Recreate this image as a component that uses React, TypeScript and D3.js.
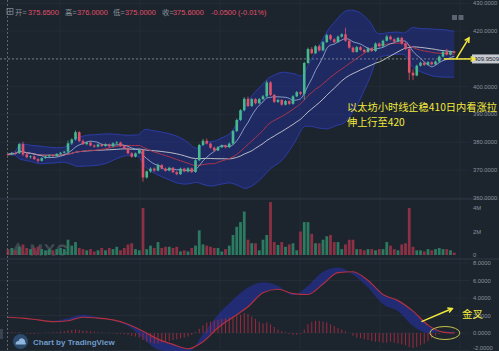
import * as d3 from 'd3';

// candles (ETH hourly)
const opens = [
  375.65, 375.6, 376.1, 376.0, 379.3, 375.6, 374.6, 374.9, 373.9, 373.3,
  374.3, 374.9, 375.3, 375.0, 375.8, 376.2, 376.6, 379.6, 381.0, 383.6,
  380.4, 379.3, 379.9, 378.8, 378.4, 379.2, 378.6, 379.2, 378.5, 379.6,
  379.9, 378.6, 377.8, 376.0, 374.8, 376.0, 377.2, 367.3, 369.5, 370.5,
  369.8, 371.8, 370.5, 369.8, 370.8, 369.2, 368.5, 370.5, 369.5, 370.6,
  369.3, 373.5, 379.0, 380.5, 379.5, 378.0, 377.0, 378.2, 378.8, 378.2,
  379.5, 384.0, 388.0, 391.5, 395.6, 393.0, 395.5, 394.0, 395.5, 396.5,
  401.5, 397.0, 394.5, 395.2, 393.5, 394.8, 393.8, 396.5, 398.0, 397.4,
  408.5, 413.5, 412.0, 414.5, 413.0, 416.0, 418.5, 417.0, 416.0, 418.0,
  418.8, 416.5, 414.0, 412.5, 414.2, 413.2, 412.5, 413.8, 412.8, 415.5,
  414.5, 416.5, 418.0, 417.0, 416.2, 417.5, 415.5, 413.5, 405.0, 404.0,
  407.5, 408.6, 407.8, 408.8, 408.0, 409.0, 410.8, 412.5, 411.5, 412.6,
];
const highs = [
  376.0, 376.5, 376.6, 379.8, 380.2, 376.2, 375.3, 375.2, 374.3, 374.6,
  375.2, 375.6, 375.7, 376.0, 376.5, 376.9, 380.6, 381.4, 384.2, 384.0,
  381.0, 380.3, 380.2, 379.2, 379.6, 379.5, 379.6, 379.5, 380.0, 380.4,
  380.2, 379.0, 378.2, 376.4, 376.3, 377.6, 377.6, 369.8, 371.0, 370.9,
  372.3, 372.1, 370.9, 371.2, 371.1, 369.6, 370.9, 370.8, 371.0, 370.9,
  373.9, 379.4, 381.2, 381.3, 379.9, 378.4, 378.6, 379.2, 379.1, 379.9,
  384.4, 388.5, 391.9, 396.2, 396.4, 395.9, 395.9, 395.9, 397.0, 402.2,
  402.0, 397.4, 395.6, 395.5, 395.2, 395.1, 396.9, 398.4, 398.3, 408.9,
  414.0, 414.2, 414.9, 415.0, 416.4, 419.0, 418.9, 417.4, 418.4, 419.2,
  421.2, 416.9, 414.4, 414.6, 414.6, 413.6, 414.2, 414.1, 415.9, 415.9,
  416.9, 418.6, 418.4, 417.4, 417.9, 417.9, 415.9, 413.9, 406.2, 407.9,
  409.0, 408.9, 409.2, 409.1, 409.4, 411.2, 412.9, 413.6, 413.0, 412.9,
];
const lows = [
  375.0, 375.3, 375.6, 375.8, 375.0, 374.2, 374.1, 373.6, 372.7, 373.0,
  374.0, 374.5, 374.7, 374.8, 375.5, 375.9, 376.3, 379.0, 380.6, 380.0,
  379.0, 378.9, 378.5, 378.0, 378.1, 378.3, 378.3, 377.9, 378.2, 379.2,
  378.4, 377.5, 375.7, 374.4, 374.5, 375.7, 365.8, 366.9, 369.0, 369.3,
  369.5, 370.2, 369.4, 369.5, 368.9, 368.1, 368.2, 369.2, 369.1, 368.9,
  369.0, 373.2, 378.6, 379.2, 377.7, 376.6, 376.8, 377.9, 377.8, 377.9,
  379.2, 383.6, 387.6, 391.1, 392.6, 392.7, 393.6, 393.7, 395.1, 396.2,
  396.6, 394.1, 394.1, 393.1, 393.2, 393.4, 393.5, 396.2, 396.9, 395.3,
  408.2, 411.6, 411.7, 412.6, 412.7, 415.7, 416.6, 415.6, 415.7, 417.6,
  416.1, 413.6, 412.1, 412.2, 412.9, 412.1, 412.2, 412.4, 412.5, 414.1,
  414.2, 416.2, 416.6, 415.8, 415.9, 415.1, 413.1, 402.4, 402.3, 403.7,
  407.2, 407.4, 407.5, 407.6, 407.7, 408.7, 410.5, 411.2, 411.2, 411.9,
];
const closes = [
  375.6, 376.1, 376.0, 379.3, 375.6, 374.6, 374.9, 373.9, 373.3, 374.3,
  374.9, 375.3, 375.0, 375.8, 376.2, 376.6, 379.6, 381.0, 383.6, 380.4,
  379.3, 379.9, 378.8, 378.4, 379.2, 378.6, 379.2, 378.5, 379.6, 379.9,
  378.6, 377.8, 376.0, 374.8, 376.0, 377.2, 367.3, 369.5, 370.5, 369.8,
  371.8, 370.5, 369.8, 370.8, 369.2, 368.5, 370.5, 369.5, 370.6, 369.3,
  373.5, 379.0, 380.5, 379.5, 378.0, 377.0, 378.2, 378.8, 378.2, 379.5,
  384.0, 388.0, 391.5, 395.6, 393.0, 395.5, 394.0, 395.5, 396.5, 401.5,
  397.0, 394.5, 395.2, 393.5, 394.8, 393.8, 396.5, 398.0, 397.4, 408.5,
  413.5, 412.0, 414.5, 413.0, 416.0, 418.5, 417.0, 416.0, 418.0, 418.8,
  416.5, 414.0, 412.5, 414.2, 413.2, 412.5, 413.8, 412.8, 415.5, 414.5,
  416.5, 418.0, 417.0, 416.2, 417.5, 415.5, 413.5, 405.0, 404.0, 407.5,
  408.6, 407.8, 408.8, 408.0, 409.0, 410.8, 412.5, 411.5, 412.6, 412.2,
];
// volume in millions
const volumes = [
  0.5, 0.6, 0.4, 0.7, 0.9, 0.6, 0.5, 0.6, 0.7, 0.5,
  0.4, 0.5, 0.4, 0.5, 0.6, 0.5, 1.3, 0.8, 1.1, 0.6,
  0.5, 0.4, 0.5, 0.3, 0.4, 0.6, 0.4, 0.6, 0.5, 0.7,
  0.4, 0.6, 0.9, 1.0, 0.5, 0.4, 4.0, 0.5, 0.8, 0.6,
  1.1, 0.6, 0.7, 0.7, 0.6, 0.7, 0.3, 0.4, 0.3, 0.6,
  0.8, 2.1, 0.9, 0.8, 0.7, 0.6, 0.6, 0.3, 0.5, 0.8,
  1.7, 2.4, 2.8, 3.7, 1.3, 1.0, 1.0, 0.4, 1.3, 1.7,
  4.5, 1.1, 0.85, 1.1, 0.7, 0.9, 1.0, 0.4, 2.0, 2.8,
  2.8, 1.8, 1.0, 1.0, 1.3, 1.6, 1.7, 1.1, 1.1, 0.5,
  0.9, 1.3, 1.3, 0.5, 0.5, 0.4, 0.5, 0.5, 0.4, 0.5,
  0.5, 1.1, 0.8, 0.5, 0.4, 0.9, 1.0, 4.0, 0.7, 0.4,
  0.4, 0.3, 0.5, 0.4, 0.5, 0.6, 0.5, 0.5, 0.4, 0.2,
];

// MACD panel, lines sampled every 4th candle
const macdIdx = [0, 4, 8, 12, 16, 20, 24, 28, 32, 36, 40, 44, 48, 52, 56, 60, 64, 68, 72, 76, 80, 84, 88, 92, 96, 100, 104, 108, 112, 116, 119];
const macdLine = [1.9, 1.7, 1.45, 1.4, 1.7, 2.1, 1.8, 1.4, 0.8, -0.6, -1.9, -2.1, -2.2, -0.1, 2.1, 3.8, 5.2, 5.8, 5.4, 4.3, 5.4, 7.0, 7.5, 6.7, 5.2, 3.3, 2.5, 0.8, 0.0, 0.15, 0.15];
const signalLine = [1.8, 1.7, 1.5, 1.3, 1.4, 1.8, 1.7, 1.5, 1.0, 0.2, -0.7, -1.3, -1.8, -1.0, 0.6, 1.8, 3.0, 4.6, 5.0, 4.5, 4.4, 5.6, 6.9, 7.0, 6.0, 4.4, 3.7, 2.5, 0.9, 0.1, 0.0];
const histogram = [
  0.1, 0.1, 0.05, 0.1, 0, -0.05, -0.1, -0.1, -0.05, 0, 0.05, 0.05,
  0.1, 0.1, 0.15, 0.2, 0.3, 0.35, 0.4, 0.35,
  0.3, 0.25, 0.2, 0.15, 0.1, 0.05, 0, -0.05, -0.05, -0.1, -0.1, -0.15,
  -0.2, -0.3, -0.4, -0.5, -0.8, -1.0, -1.1, -1.2, -1.2, -1.1, -1.0, -0.9, -0.8, -0.7, -0.6, -0.5,
  -0.4, -0.2, 0.1, 0.5,
  0.9, 1.2, 1.3, 1.4, 1.5, 1.6, 1.7, 1.8, 1.9, 2.0, 2.1, 2.3,
  2.2, 1.9, 1.6, 1.3, 1.1, 1.2, 1.0, 0.7, 0.4, 0.2, 0.1, -0.1,
  -0.2, -0.2, -0.1, 0.4,
  1.0, 1.3, 1.4, 1.4, 1.3, 1.2, 1.0, 0.8, 0.6, 0.4, 0.2, 0,
  -0.3, -0.5, -0.6, -0.7, -0.8, -0.9, -1.0, -1.0, -1.1, -1.1, -1.0, -1.1,
  -1.2, -1.3, -1.4, -1.6, -1.7, -1.6, -1.4, -1.2, -0.9, -0.6, -0.3, -0.1,
  0.05, 0.1, 0.1, 0.15,
];

const priceTicks = [430, 420, 400, 390, 380, 370, 360];
const volumeTicks = [4, 2, 0];
const macdTicks = [8, 6, 4, 2, 0, -2];
const lastPrice = 409.9509;
const headerLabels = ['开=', '高=', '低=', '收='];
const headerValues = ['375.6500', '376.0000', '375.0000', '375.6000'];
const headerChange = '-0.0500 (-0.01%)';
const noteLines = ['以太坊小时线企稳410日内看涨拉', '伸上行至420'];
const crossNote = '金叉';

const W = 499, H = 351;
const BG = '#1c242e';
const GRID = '#232c37';
const AXIS = '#8b939c';
const UP = '#45b98f';
const DOWN = '#e0506a';
const YELLOW = '#f3ea3c';
const LAT = 'Liberation Sans, Arial, sans-serif';
const CJK = 'Noto Sans CJK SC, sans-serif';

const n = closes.length;
const xScale = d3.scaleLinear().domain([0, n - 1]).range([8, 454.25]);
const yPrice = d3.scaleLinear().domain([360, 430]).range([197.8, 3.2]);
const yVol = d3.scaleLinear().domain([0, 4]).range([255, 208]);
const yMacd = d3.scaleLinear().domain([-2, 8]).range([350.5, 263]);

function sma(period: number) {
  return closes.map((_, i) => d3.mean(closes.slice(Math.max(0, i - period + 1), i + 1)) as number);
}
const ma7 = sma(7);
const ma20 = sma(20);
const ma30 = sma(30);
const bbDev = closes.map((_, i) => {
  const w = closes.slice(Math.max(0, i - 19), i + 1);
  const m = d3.mean(w) as number;
  return Math.sqrt(d3.mean(w, v => (v - m) * (v - m)) as number);
});

const idx = d3.range(n);
const maLine = (arr: number[]) => d3.line<number>().x(i => xScale(i)).y(i => yPrice(arr[i])).curve(d3.curveMonotoneX)(idx) as string;
const bbArea = d3.area<number>()
  .x(i => xScale(i))
  .y0(i => yPrice(ma20[i] - 2 * bbDev[i]))
  .y1(i => yPrice(ma20[i] + 2 * bbDev[i]))
  .curve(d3.curveBasis)(idx) as string;
const bbUpper = d3.line<number>().x(i => xScale(i)).y(i => yPrice(ma20[i] + 2 * bbDev[i])).curve(d3.curveBasis)(idx) as string;
const bbLower = d3.line<number>().x(i => xScale(i)).y(i => yPrice(ma20[i] - 2 * bbDev[i])).curve(d3.curveBasis)(idx) as string;

const mIdx = d3.range(macdIdx.length);
const signalPath = d3.line<number>().x(k => xScale(macdIdx[k])).y(k => yMacd(signalLine[k])).curve(d3.curveMonotoneX)(mIdx) as string;
const macdArea = d3.area<number>().x(k => xScale(macdIdx[k])).y0(k => yMacd(signalLine[k])).y1(k => yMacd(macdLine[k])).curve(d3.curveMonotoneX)(mIdx) as string;

function arrowHead(x1: number, y1: number, x2: number, y2: number, size = 5) {
  const a = Math.atan2(y2 - y1, x2 - x1);
  const p1 = [x2 - size * Math.cos(a - 0.5), y2 - size * Math.sin(a - 0.5)];
  const p2 = [x2 - size * Math.cos(a + 0.5), y2 - size * Math.sin(a + 0.5)];
  return `M${p1[0]},${p1[1]}L${x2},${y2}L${p2[0]},${p2[1]}`;
}

export default function App() {
  const bodyW = 2.6;
  const lastY = yPrice(lastPrice);
  const headerX = [15, 65, 113, 162];
  const valueX = [28, 77, 125, 173];

  // annotation anchors
  const hx1 = xScale(117) - 3, hx2 = 475;
  const dx1 = xScale(119) + 2, dy1 = yPrice(410), dx2 = 469, dy2 = yPrice(417.5);
  const ax1 = xScale(110) + 1, ay1 = yMacd(1.3), ax2 = xScale(119) - 2, ay2 = yMacd(2.8);

  return (
    <svg width={W} height={H} style={{ position: 'absolute', left: 0, top: 0, background: BG }}>
      <defs>
        <clipPath id="pclip"><rect x={0} y={0} width={470} height={199} /></clipPath>
        <clipPath id="vclip"><rect x={0} y={199} width={470} height={60} /></clipPath>
        <clipPath id="mclip"><rect x={0} y={259} width={470} height={92} /></clipPath>
      </defs>
      <rect x={0} y={0} width={W} height={H} fill={BG} />

      {/* grid */}
      {[60, 140, 220, 300, 380, 460].map(x => (
        <line key={'vg' + x} x1={x} x2={x} y1={0} y2={H} stroke={GRID} strokeWidth={1} />
      ))}
      {[...priceTicks, 410].map(t => (
        <line key={'pg' + t} x1={0} x2={470} y1={yPrice(t)} y2={yPrice(t)} stroke={GRID} />
      ))}
      {macdTicks.map(t => (
        <line key={'mg' + t} x1={0} x2={470} y1={yMacd(t)} y2={yMacd(t)} stroke={GRID} />
      ))}
      <line x1={0} x2={W} y1={199} y2={199} stroke="#2e3844" />
      <line x1={0} x2={W} y1={259} y2={259} stroke="#2e3844" />

      {/* price panel */}
      <g clipPath="url(#pclip)">
        <path d={bbArea} fill="rgba(36,48,150,0.5)" />
        <path d={bbUpper} fill="none" stroke="rgba(45,62,175,0.9)" strokeWidth={1} />
        <path d={bbLower} fill="none" stroke="rgba(45,62,175,0.9)" strokeWidth={1} />
        <path d={maLine(ma30)} fill="none" stroke="#c9cbd0" strokeWidth={0.9} />
        <path d={maLine(ma20)} fill="none" stroke="#a8344c" strokeWidth={1} />
        <path d={maLine(ma7)} fill="none" stroke="#9fb9e0" strokeWidth={0.8} />
        {idx.map(i => {
          const up = closes[i] >= opens[i];
          const c = up ? UP : DOWN;
          const x = xScale(i);
          const top = yPrice(Math.max(opens[i], closes[i]));
          const bot = yPrice(Math.min(opens[i], closes[i]));
          return (
            <g key={'c' + i}>
              <line x1={x} x2={x} y1={yPrice(highs[i])} y2={yPrice(lows[i])} stroke={c} strokeWidth={0.8} />
              <rect x={x - bodyW / 2} y={top} width={bodyW} height={Math.max(0.8, bot - top)} fill={c} />
            </g>
          );
        })}
        <line x1={0} x2={470} y1={lastY} y2={lastY} stroke="#8a929b" strokeWidth={0.8} strokeDasharray="2,2" />
      </g>

      {/* volume panel */}
      <g clipPath="url(#vclip)">
        <g opacity={0.35} fill="#7d8893">
          <path d="M10,255 L18,242 L26,255 Z" />
          <text x={30} y={255} fontFamily={LAT} fontSize={15} letterSpacing={2} fill="none" stroke="#a5afb9" strokeWidth={0.8}>MXC</text>
        </g>
        {idx.map(i => {
          const up = closes[i] >= opens[i];
          return (
            <rect key={'v' + i} x={xScale(i) - 1.4} y={yVol(volumes[i])} width={2.8} height={yVol(0) - yVol(volumes[i])}
              fill={up ? '#2c7a60' : '#8c3044'} />
          );
        })}
      </g>

      {/* MACD panel */}
      <g clipPath="url(#mclip)">
        <path d={macdArea} fill="rgba(38,50,165,0.6)" />
        {idx.map(i => (
          <line key={'h' + i} x1={xScale(i)} x2={xScale(i)} y1={yMacd(0)} y2={yMacd(histogram[i])} stroke="#922a3c" strokeWidth={1.1} />
        ))}
        <path d={signalPath} fill="none" stroke="#b3303f" strokeWidth={1.2} />
      </g>

      {/* crosshair */}
      <line x1={7.5} x2={7.5} y1={0} y2={H} stroke="#6d7681" strokeWidth={0.8} strokeDasharray="2,2" />

      {/* right axis */}
      {priceTicks.map(t => (
        <text key={'pt' + t} x={473} y={yPrice(t) + 2} fontFamily={LAT} fontSize={5.8} fill={AXIS}>{t.toFixed(4)}</text>
      ))}
      {volumeTicks.map(t => (
        <text key={'vt' + t} x={473} y={yVol(t) + 2} fontFamily={LAT} fontSize={5.8} fill={AXIS}>{t === 0 ? '0' : t + 'M'}</text>
      ))}
      {macdTicks.map(t => (
        <text key={'mt' + t} x={473} y={Math.min(349.5, yMacd(t) + 2)} fontFamily={LAT} fontSize={5.8} fill={AXIS}>{t.toFixed(4)}</text>
      ))}
      <rect x={472} y={lastY - 4.5} width={27} height={9} fill="#c7cad0" />
      <text x={474} y={lastY + 2} fontFamily={LAT} fontSize={6} fill="#1a2029">{lastPrice.toFixed(4)}</text>

      {/* top-right buttons */}
      <rect x={452} y={15} width={5} height={5} fill="#5b6470" />
      <rect x={458.5} y={15} width={5} height={5} fill="#5b6470" />

      {/* header */}
      <g fontSize={7.4}>
        <rect x={7} y={8.5} width={6} height={6} fill="none" stroke={AXIS} strokeWidth={0.7} />
        <line x1={10} x2={10} y1={8.5} y2={14.5} stroke={AXIS} strokeWidth={0.6} />
        <line x1={7} x2={13} y1={11.5} y2={11.5} stroke={AXIS} strokeWidth={0.6} />
        {headerLabels.map((l, k) => (
          <g key={'hd' + k}>
            <text x={headerX[k]} y={14.5} fontFamily={CJK} fill={AXIS}>{l}</text>
            <text x={valueX[k]} y={14.5} fontFamily={LAT} fill={DOWN}>{headerValues[k]}</text>
          </g>
        ))}
        <text x={211} y={14.5} fontFamily={LAT} fill={DOWN}>{headerChange}</text>
      </g>

      {/* annotations */}
      <g stroke={YELLOW} strokeWidth={1.5} fill="none">
        <line x1={hx1} y1={lastY} x2={hx2} y2={lastY} />
        <path d={arrowHead(hx1, lastY, hx2, lastY, 5)} />
        <line x1={dx1} y1={dy1} x2={dx2} y2={dy2} />
        <path d={arrowHead(dx1, dy1, dx2, dy2, 5)} />
        <line x1={ax1} y1={ay1} x2={ax2} y2={ay2} />
        <path d={arrowHead(ax1, ay1, ax2, ay2, 5)} />
      </g>
      <ellipse cx={xScale(116.5)} cy={yMacd(0)} rx={15} ry={6.5} fill="none" stroke="#c9c24a" strokeWidth={1} />
      <text x={347} y={111} fontFamily={CJK} fontSize={10.2} fill={YELLOW} textLength={150} lengthAdjust="spacingAndGlyphs">{noteLines[0]}</text>
      <text x={347} y={126} fontFamily={CJK} fontSize={10.2} fill={YELLOW}>{noteLines[1]}</text>
      <text x={462} y={318} fontFamily={CJK} fontSize={10.5} fill={YELLOW}>{crossNote}</text>

      {/* footer logo */}
      <circle cx={20.5} cy={341.5} r={7.5} fill="#2c4a6b" />
      <path d="M15.5,344.5 Q15.5,341 18.5,341 Q19.5,337.5 22.5,338.5 Q25.5,339.5 25,342 Q26.5,342.5 25.5,344.5 Z" fill="#8fb6dc" />
      <text x={33} y={344.5} fontFamily={LAT} fontSize={8} fontWeight="bold" fill="#6f9ccb">Chart by TradingView</text>
      <rect x={0} y={329} width={3} height={10} fill="#3a4450" />
    </svg>
  );
}
